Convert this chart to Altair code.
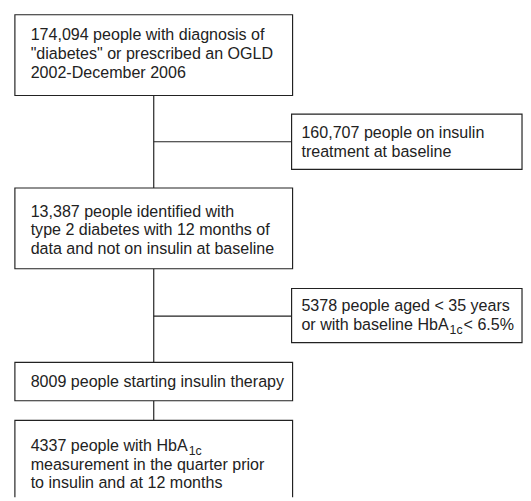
import altair as alt
import pandas as pd

# ---- content -------------------------------------------------------------
box_lines = [
    ["174,094 people with diagnosis of", "\"diabetes\" or prescribed an OGLD", "2002-December 2006"],
    ["160,707 people on insulin", "treatment at baseline"],
    ["13,387 people identified with", "type 2 diabetes with 12 months of", "data and not on insulin at baseline"],
    ["5378 people aged < 35 years", "or with baseline HbA"],
    ["8009 people starting insulin therapy"],
    ["4337 people with HbA", "measurement in the quarter prior", "to insulin and at 12 months"],
]
# (box index, line index, subscript, trailing text)
subscripts = [(3, 1, "1c", " < 6.5%"), (5, 0, "1c", "")]

# ---- layout (pixel coordinates of the figure) -----------------------------
box_x0 = [15, 296, 15, 296, 15, 15]
box_x1 = [297, 530, 297, 530, 297, 297]
box_y0 = [11, 112, 187, 289, 364, 423]
box_y1 = [93, 168, 269, 344, 403, 520]
text_x = [31, 306, 31, 306, 31, 31]
first_baseline = [37, 136, 216, 312, 389, 454]
line_gap = 19
FS, SUB_FS, SUB_DY = 16.3, 12.5, 4

conn_x0 = [156, 156, 156, 156, 156]
conn_x1 = [156, 156, 156, 296, 296]
conn_y0 = [93, 269, 403, 140, 317]
conn_y1 = [187, 364, 423, 140, 317]

# Arial / Liberation Sans advance widths (per 1000 em) for prefix measurement
AW = {' ': 278, 'a': 556, 'b': 556, 'e': 556, 'h': 556, 'i': 222, 'l': 222, 'n': 556,
      'o': 556, 'p': 556, 'r': 333, 's': 500, 't': 278, 'w': 722, 'H': 722, 'A': 667,
      '1': 556, 'c': 500, '3': 556, '4': 556, '7': 556}


def width(s, fs):
    return sum(AW.get(ch, 556) for ch in s) * fs / 1000.0


W, H = 523, 493
xs = alt.Scale(domain=[8, 8 + W], nice=False, zero=False)
ys = alt.Scale(domain=[8, 8 + H], nice=False, zero=False, reverse=True)

boxes = pd.DataFrame({"x": box_x0, "x2": box_x1, "y": box_y0, "y2": box_y1})
conns = pd.DataFrame({"x": conn_x0, "x2": conn_x1, "y": conn_y0, "y2": conn_y1})

rows = []
for b, lines in enumerate(box_lines):
    for i, t in enumerate(lines):
        rows.append({"x": text_x[b], "y": first_baseline[b] + i * line_gap, "t": t})
sub_rows = []
for b, i, sub, tail in subscripts:
    prefix = box_lines[b][i]
    x0 = text_x[b] + width(prefix, FS) + 1
    yb = first_baseline[b] + i * line_gap
    sub_rows.append({"x": x0, "y": yb + SUB_DY, "t": sub})
    if tail:
        rows.append({"x": x0 + width(sub, SUB_FS) + 1, "y": yb, "t": tail})
texts = pd.DataFrame(rows)
subs = pd.DataFrame(sub_rows)

INK = "#222222"

conn_layer = alt.Chart(conns).mark_rule(stroke=INK, strokeWidth=1.2).encode(
    x=alt.X("x:Q", scale=xs, axis=None), x2="x2:Q",
    y=alt.Y("y:Q", scale=ys, axis=None), y2="y2:Q")

box_layer = alt.Chart(boxes).mark_rect(fill="white", stroke=INK, strokeWidth=1.2, clip=True).encode(
    x=alt.X("x:Q", scale=xs, axis=None), x2="x2:Q",
    y=alt.Y("y:Q", scale=ys, axis=None), y2="y2:Q")

text_layer = alt.Chart(texts).mark_text(align="left", baseline="alphabetic", font="Liberation Sans",
                                        fontSize=FS, color=INK).encode(
    x=alt.X("x:Q", scale=xs, axis=None), y=alt.Y("y:Q", scale=ys, axis=None), text="t:N")

sub_layer = alt.Chart(subs).mark_text(align="left", baseline="alphabetic", font="Liberation Sans",
                                      fontSize=SUB_FS, color=INK).encode(
    x=alt.X("x:Q", scale=xs, axis=None), y=alt.Y("y:Q", scale=ys, axis=None), text="t:N")

chart = alt.layer(conn_layer, box_layer, text_layer, sub_layer).properties(
    width=W, height=H, padding=0, autosize=alt.AutoSizeParams(type="none"),
    background="white"
).configure_view(strokeWidth=0)

chart.save("out.html", embed_options={"renderer": "svg", "actions": False})
